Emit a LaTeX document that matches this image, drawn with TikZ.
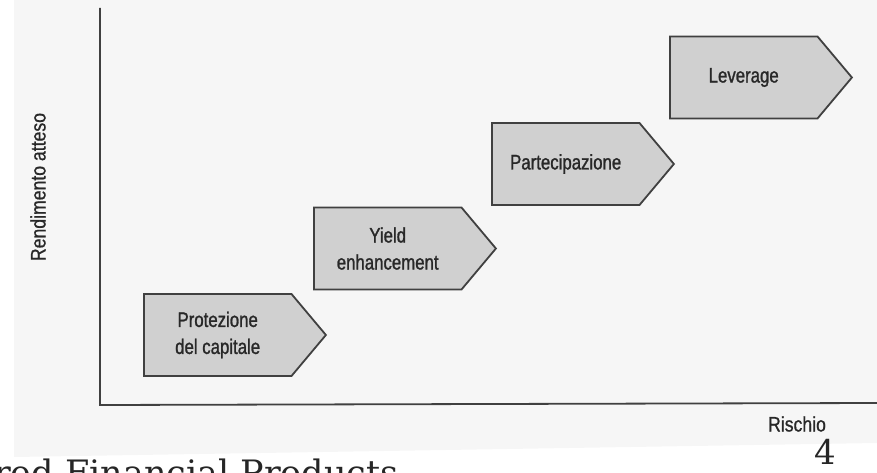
\documentclass[tikz,border=0pt]{standalone}
\usepackage{fontspec}
\setmainfont{DejaVu Serif}
\newfontfamily\lblfont[FakeStretch=0.8,FakeBold=1.2]{Liberation Sans}
\newfontfamily\axisfont[FakeStretch=0.84,FakeBold=0.8]{Liberation Sans}
\usepackage{tikz}
\usetikzlibrary{shapes.symbols}
\definecolor{boxgray}{RGB}{208,208,208}
\definecolor{edgegray}{RGB}{64,64,64}
\definecolor{inkgray}{RGB}{40,40,40}
\definecolor{scangray}{RGB}{246,246,246}

\begin{document}
\begin{tikzpicture}[x=1pt,y=-1pt,
	stepbox/.style={signal, signal to=east, signal pointer angle=100, anchor=west,
		draw=edgegray, line width=1.8pt, fill=boxgray, text=inkgray, align=center,
		minimum width=182pt, minimum height=82pt, inner sep=0pt,
		font=\lblfont\fontsize{21}{27}\selectfont},
	axislabel/.style={text=inkgray, font=\axisfont\fontsize{21}{24}\selectfont}]
	\useasboundingbox (0,0) rectangle (877,473);
	\fill [scangray] (14,0) -- (877,0) -- (877,443) -- (14,457) -- cycle;
	% axes
	\coordinate (o) at (100,405);
	\coordinate (ytop) at (100,8);
	\coordinate (xend) at (877,403);
	\draw [line width=1.8pt, edgegray] (ytop) -- (o) -- (xend);
	\node [axislabel, rotate=90] (ylab) at (38,187) {Rendimento atteso};
	\node [axislabel] (xlab) at (797,424) {Rischio};
	% steps
	\node [stepbox] (n1) at (143,335) {Protezione\\del capitale};
	\node [stepbox] (n2) at (313,248.5) {Yield\\enhancement};
	\node [stepbox] (n3) at (491,164) {Partecipazione};
	\node [stepbox] (n4) at (669,77.5) {Leverage};
	% footer
	\node [anchor=base west, inner sep=0pt, text=black!85] (foot) at (-6,485) {\fontsize{35}{38}\selectfont red Financial Products};
	\node [inner sep=0pt, text=black!85] (page) at (825,452) {\fontsize{34}{36}\selectfont 4};
\end{tikzpicture}
\end{document}
